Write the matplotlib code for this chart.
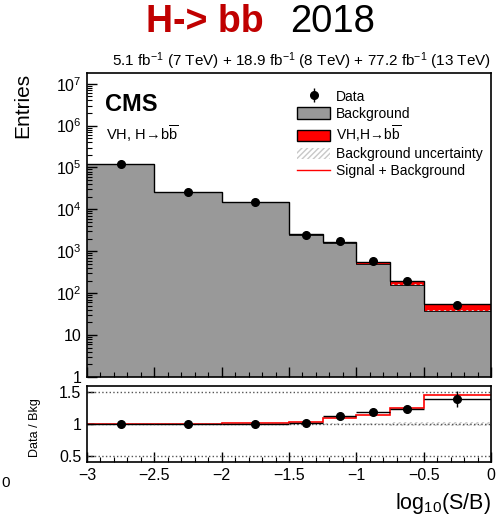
import numpy as np
import matplotlib.pyplot as plt
from matplotlib.patches import Patch
from matplotlib.lines import Line2D
from matplotlib.ticker import FixedLocator, FixedFormatter, MultipleLocator, LogLocator, NullFormatter

plt.rcParams['font.family'] = ['Liberation Sans', 'DejaVu Sans']
plt.rcParams['mathtext.fontset'] = 'custom'
plt.rcParams['mathtext.rm'] = 'Liberation Sans'
plt.rcParams['mathtext.it'] = 'Liberation Sans:italic'
plt.rcParams['mathtext.bf'] = 'Liberation Sans:bold'

# binning in log10(S/B)
edges = [-3, -2.5, -2, -1.5, -1.25, -1, -0.75, -0.5, 0]
# stacked histograms (entries per bin)
background = [118000, 26500, 15000, 2450, 1550, 500, 160, 38]
signal = [100, 130, 225, 85, 140, 70, 40, 17.5]
# observed data
data = [118000, 26500, 14900, 2500, 1740, 595, 198, 53]
data_x = [-2.75, -2.25, -1.75, -1.375, -1.125, -0.875, -0.625, -0.25]
ratio_err = [0.005, 0.008, 0.01, 0.02, 0.03, 0.04, 0.06, 0.12]
bkg_unc = [0.004, 0.005, 0.006, 0.01, 0.012, 0.018, 0.03, 0.035]

y_ticks = [1, 10, 1e2, 1e3, 1e4, 1e5, 1e6, 1e7]
y_ticklabels = ['1', '10', '$10^{2}$', '$10^{3}$', '$10^{4}$', '$10^{5}$', '$10^{6}$', '$10^{7}$']
x_ticks = [-3, -2.5, -2, -1.5, -1, -0.5, 0]
x_ticklabels = ['\u22123', '\u22122.5', '\u22122', '\u22121.5', '\u22121', '\u22120.5', '0']
ratio_ticks = [0.5, 1, 1.5]
ratio_ticklabels = ['0.5', '1', '1.5']

GRAY = '#999999'
RED = '#ff0000'
HBB = r'H$\!\rightarrow\!$b$\overline{\mathrm{b}}$'

edges_a = np.array(edges)
bkg_a = np.array(background, dtype=float)
tot_a = bkg_a + np.array(signal)
data_a = np.array(data, dtype=float)
unc_a = np.array(bkg_unc)

fig = plt.figure(figsize=(4.98, 5.16), dpi=100)
W, H = 498, 516
ax = fig.add_axes([87 / W, 1 - 377 / H, 404 / W, 304 / H])
rax = fig.add_axes([87 / W, 1 - 462 / H, 404 / W, 76 / H])

# ---- main panel ----
ax.set_yscale('log')
ax.stairs(bkg_a, edges_a, baseline=1e-3, fill=True, color=GRAY, lw=0)
ax.stairs(tot_a, edges_a, baseline=bkg_a, fill=True, color=RED, lw=0)
ax.stairs(bkg_a * (1 + unc_a), edges_a, baseline=bkg_a * (1 - unc_a), fill=False,
          hatch='//////', edgecolor='#d0d0d0', lw=0)
ax.stairs(bkg_a, edges_a, baseline=None, color='black', lw=0.6)
ax.stairs(tot_a, edges_a, baseline=None, color='black', lw=1.0)
data_h = ax.errorbar(data_x, data_a, yerr=np.sqrt(data_a), fmt='o', color='black',
                     markersize=5.5, elinewidth=1, capsize=0)
ax.set_xlim(-3, 0)
ax.set_ylim(1, 1.8e7)

ax.yaxis.set_major_locator(FixedLocator(y_ticks))
ax.yaxis.set_major_formatter(FixedFormatter(y_ticklabels))
ax.yaxis.set_minor_locator(LogLocator(base=10, subs=np.arange(2, 10), numticks=20))
ax.yaxis.set_minor_formatter(NullFormatter())
ax.xaxis.set_major_locator(FixedLocator(x_ticks))
ax.xaxis.set_minor_locator(MultipleLocator(0.1))
ax.tick_params(axis='x', labelbottom=False)
ax.tick_params(which='major', direction='in', length=7, width=1, labelsize=11.5, pad=4)
ax.tick_params(which='minor', direction='in', length=3.5, width=0.8)
for s in ax.spines.values():
    s.set_linewidth(1.2)

ax.set_ylabel('Entries', fontsize=15, loc='top')
ax.yaxis.set_label_coords(-0.135, 1.0)

ax.text(0.045, 0.895, 'CMS', transform=ax.transAxes, fontsize=17, fontweight='bold',
        va='center', ha='left')
ax.text(0.048, 0.80, 'VH, ' + HBB, transform=ax.transAxes,
        fontsize=10.5, va='center', ha='left')

handles = [
    data_h,
    Patch(facecolor=GRAY, edgecolor='black', lw=1),
    Patch(facecolor=RED, edgecolor='black', lw=1),
    Patch(facecolor='white', edgecolor='#c8c8c8', hatch='//////', lw=0),
    Line2D([0], [0], color=RED, lw=1),
]
labels = ['Data', 'Background', 'VH,' + HBB,
          'Background uncertainty', 'Signal + Background']
ax.legend(handles, labels, loc='upper left', bbox_to_anchor=(0.52, 0.945),
          frameon=False, fontsize=10, handlelength=2.4, handleheight=0.9,
          handletextpad=0.4, labelspacing=0.22, borderpad=0, borderaxespad=0)

# ---- ratio panel ----
for yv in ratio_ticks:
    rax.axhline(yv, color='#555555', ls=':', lw=1)
rax.stairs(1 + unc_a, edges_a, baseline=1 - unc_a, fill=False, hatch='//////',
           edgecolor='#c8c8c8', lw=0)
rax.stairs(tot_a / bkg_a, edges_a, baseline=None, color=RED, lw=1.2)
half_w = np.diff(edges_a) / 2
rax.errorbar(data_x, data_a / bkg_a, xerr=half_w, yerr=ratio_err, fmt='o', color='black',
             markersize=5.5, elinewidth=1, capsize=0)
rax.set_xlim(-3, 0)
rax.set_ylim(0.4, 1.6)
rax.xaxis.set_major_locator(FixedLocator(x_ticks))
rax.xaxis.set_major_formatter(FixedFormatter(x_ticklabels))
rax.xaxis.set_minor_locator(MultipleLocator(0.1))
rax.yaxis.set_major_locator(FixedLocator(ratio_ticks))
rax.yaxis.set_major_formatter(FixedFormatter(ratio_ticklabels))
rax.tick_params(which='major', direction='in', length=7, width=1, labelsize=11.5, pad=4)
rax.tick_params(which='minor', direction='in', length=3.5, width=0.8)
rax.tick_params(axis='y', which='major', length=5)
for s in rax.spines.values():
    s.set_linewidth(1.2)
rax.set_ylabel('Data / Bkg', fontsize=9)
rax.yaxis.set_label_coords(-0.115, 0.45)
rax.set_xlabel(r'log$_{10}$(S/B)', fontsize=15.5, loc='right', labelpad=6)

# ---- header texts ----
fig.text(146 / W, 1 - 22 / H, 'H-> bb', color='#c00000', fontsize=27, fontweight='bold',
         ha='left', va='center')
fig.text(290 / W, 1 - 22 / H, '2018', color='black', fontsize=27.5, ha='left', va='center')
fig.text(491 / W, 1 - 61 / H,
         r'5.1 fb$^{-1}$ (7 TeV) + 18.9 fb$^{-1}$ (8 TeV) + 77.2 fb$^{-1}$ (13 TeV)',
         fontsize=11, ha='right', va='center')
fig.text(1 / W, 1 - 483 / H, '0', fontsize=11, ha='left', va='center')

fig.savefig('out.png', dpi=100)
